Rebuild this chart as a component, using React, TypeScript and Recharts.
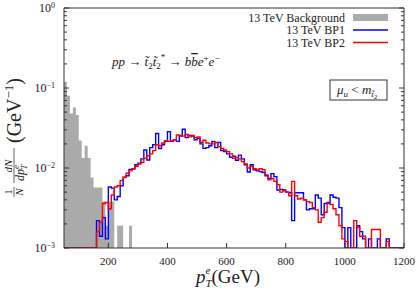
import { ComposedChart, Area, Line, XAxis, YAxis, Legend, Customized } from 'recharts'

// bin left edges, 10 GeV bins from 50 to 1200
const BIN_START = 50
const BIN_WIDTH = 10
const X_MAX = 1200

// 13 TeV background, bins from 50 GeV
const bgStart = 50
const background = [
  0.12, 0.08, 0.048, 0.057, 0.046, 0.022, 0.0133, 0.019, 0.0133, 0.0076,
  0.0057, 0.0057, 0.0057, 0.0038, 0.0019, 0.0038, 0.0038, 0, 0.0019, 0.0019,
  0, 0, 0.0019,
]

// BP1 (blue), bins from 160 GeV
const bp1Start = 160
const bp1 = [
  0.0022, 0.0014, 0.0024, 0.0013, 0.0058, 0.0056, 0.004, 0.0044, 0.006, 0.0077,
  0.008, 0.0096, 0.0098, 0.011, 0.0115, 0.013, 0.0168, 0.0126, 0.018, 0.0195,
  0.027, 0.0175, 0.0195, 0.0215, 0.0285, 0.0215, 0.0225, 0.0215, 0.025, 0.0305,
  0.024, 0.0255, 0.025, 0.0225, 0.0235, 0.02, 0.0176, 0.018, 0.019, 0.0214,
  0.018, 0.0208, 0.0165, 0.016, 0.015, 0.0136, 0.014, 0.0125, 0.0145, 0.013,
  0.011, 0.0089, 0.011, 0.0095, 0.0092, 0.009, 0.0088, 0.008, 0.0074, 0.0085,
  0.0078, 0.0053, 0.0054, 0.0053, 0.005, 0.0049, 0.0022, 0.0049, 0.0049, 0.0049,
  0.004, 0.003, 0.0031, 0.0031, 0.0046, 0.0042, 0.0026, 0.0036, 0.0037, 0.0046,
  0.0043, 0.0042, 0.0032, 0.0018, 0, 0.0018, 0, 0, 0.0019, 0.0016,
  0.0013, 0, 0.0013, 0, 0, 0.0013, 0, 0, 0.0013, 0,
  0, 0, 0, 0,
]

// BP2 (red), bins from 160 GeV
const bp2Start = 160
const bp2 = [
  0.0016, 0.0021, 0.0036, 0.0037, 0.0031, 0.0046, 0.0058, 0.006, 0.007, 0.0076,
  0.0086, 0.0092, 0.0098, 0.0105, 0.0112, 0.0117, 0.0133, 0.0142, 0.015, 0.0165,
  0.0195, 0.019, 0.0205, 0.022, 0.0215, 0.0218, 0.0225, 0.0258, 0.0255, 0.025,
  0.0262, 0.0245, 0.0255, 0.024, 0.0245, 0.021, 0.0222, 0.0205, 0.02, 0.02,
  0.0208, 0.0185, 0.0175, 0.0168, 0.016, 0.015, 0.0132, 0.0135, 0.013, 0.012,
  0.0112, 0.01, 0.0105, 0.0098, 0.0095, 0.0098, 0.0095, 0.0082, 0.0071, 0.0074,
  0.0068, 0.0062, 0.005, 0.0052, 0.005, 0.0045, 0.0068, 0.0045, 0.0041, 0.0042,
  0.004, 0.0038, 0.0037, 0.0032, 0.003, 0.0021, 0.0024, 0.0028, 0.0036, 0.0035,
  0.0031, 0.0026, 0.0019, 0.0013, 0.0012, 0, 0, 0.0022, 0.0018, 0.0014,
  0.0014, 0, 0, 0.0017, 0.0017, 0.0017, 0, 0, 0.0012, 0,
  0, 0, 0, 0,
]

const xTicks = [200, 400, 600, 800, 1000, 1200]
const yMajor = [0.001, 0.01, 0.1, 1]
const yTicks = [
  0.001, 0.002, 0.003, 0.004, 0.005, 0.006, 0.007, 0.008, 0.009,
  0.01, 0.02, 0.03, 0.04, 0.05, 0.06, 0.07, 0.08, 0.09,
  0.1, 0.2, 0.3, 0.4, 0.5, 0.6, 0.7, 0.8, 0.9, 1,
]

const Y_MIN = 0.001
const AXIS = '#333'
const FONT = '"Liberation Serif", "Times New Roman", serif'

const pick = (arr: number[], start: number, x: number) => {
  const i = Math.round((x - start) / BIN_WIDTH)
  const v = i >= 0 && i < arr.length ? arr[i] : 0
  return v > 0 ? v : Y_MIN
}

const nBins = Math.round((X_MAX - BIN_START) / BIN_WIDTH)
const data = Array.from({ length: nBins + 1 }, (_, i) => {
  const edge = BIN_START + i * BIN_WIDTH
  const x = i === nBins ? edge - BIN_WIDTH : edge
  return {
    x: edge,
    bg: pick(background, bgStart, x),
    bp1: pick(bp1, bp1Start, x),
    bp2: pick(bp2, bp2Start, x),
  }
})

const isMajor = (v: number) => yMajor.some(m => Math.abs(m - v) < 1e-9)

function LeftTick({ x, y, payload }: any) {
  const v = payload.value
  const major = isMajor(v)
  const exp = Math.round(Math.log10(v))
  return (
    <g>
      <line x1={x} y1={y} x2={x + (major ? 5 : 3)} y2={y} stroke={AXIS} />
      {major && (
        <text x={x - 9} y={y + 4} textAnchor="end" fontFamily={FONT} fontSize={12} fill="#222">
          10<tspan dy={-4} fontSize={8}>{exp === 0 ? '0' : `\u2212${-exp}`}</tspan>
        </text>
      )}
    </g>
  )
}

function RightTick({ x, y, payload }: any) {
  const major = isMajor(payload.value)
  return <line x1={x} y1={y} x2={x - (major ? 5 : 3)} y2={y} stroke={AXIS} />
}

function BottomTick({ x, y, payload }: any) {
  return (
    <g>
      <line x1={x} y1={y} x2={x} y2={y - 5} stroke={AXIS} />
      <text x={x} y={y + 17} textAnchor="middle" fontFamily={FONT} fontSize={11} fill="#222">
        {payload.value}
      </text>
    </g>
  )
}

function TopTick({ x, y }: any) {
  return <line x1={x} y1={y} x2={x} y2={y + 5} stroke={AXIS} />
}

const legendOrder = ['bg', 'bp1', 'bp2']

function renderLegend({ payload }: any) {
  const items = [...(payload || [])].sort(
    (a: any, b: any) => legendOrder.indexOf(a.dataKey) - legendOrder.indexOf(b.dataKey),
  )
  return (
    <svg width={418} height={56} style={{ display: 'block' }}>
      {items.map((it: any, i: number) => {
        const cy = 17.5 + i * 12.5
        return (
          <g key={it.dataKey}>
            <text x={345} y={cy + 4} textAnchor="end" fontFamily={FONT} fontSize={12} fill="#222">
              {it.value}
            </text>
            {it.dataKey === 'bg' ? (
              <rect x={353} y={cy - 3.5} width={35} height={7} fill="#aaaaaa" />
            ) : (
              <line x1={353} x2={388} y1={cy} y2={cy} stroke={it.color} strokeWidth={1.4} />
            )}
          </g>
        )
      })}
    </svg>
  )
}

function Annotations() {
  return (
    <g fontFamily={FONT} fill="#222">
      <text x={112} y={66} fontSize={13}>
        <tspan fontStyle="italic">pp</tspan>
        <tspan>{' \u2192 '}</tspan>
        <tspan fontStyle="italic">{'t\u0303'}</tspan>
        <tspan fontSize={9} dy={3}>2</tspan>
        <tspan fontStyle="italic" dy={-3}>{'t\u0303'}</tspan>
        <tspan fontSize={9} dy={3}>2</tspan>
        <tspan fontSize={9} dy={-9}>*</tspan>
        <tspan dy={6}>{' \u2192 '}</tspan>
        <tspan fontStyle="italic">b</tspan>
        <tspan fontStyle="italic" style={{ textDecoration: 'overline' }}>b</tspan>
        <tspan fontStyle="italic">e</tspan>
        <tspan fontSize={9} dy={-5}>+</tspan>
        <tspan fontStyle="italic" dy={5}>e</tspan>
        <tspan fontSize={9} dy={-5}>{'\u2212'}</tspan>
      </text>

      <rect x={330} y={80} width={57} height={20} fill="#fff" stroke={AXIS} />
      <text x={337} y={94} fontSize={13}>
        <tspan fontStyle="italic">{'\u03bc'}</tspan>
        <tspan fontStyle="italic" fontSize={9} dy={3}>u</tspan>
        <tspan dy={-3}>{' < '}</tspan>
        <tspan fontStyle="italic">m</tspan>
        <tspan fontStyle="italic" fontSize={9} dy={3}>{'t\u0303'}</tspan>
        <tspan fontSize={7} dy={2}>2</tspan>
      </text>

      <text x={196} y={283} fontSize={19}>
        <tspan fontStyle="italic">p</tspan>
        <tspan fontStyle="italic" fontSize={11} dy={-9}>e</tspan>
        <tspan fontStyle="italic" fontSize={11} dx={-5} dy={13}>T</tspan>
        <tspan dy={-4}>(GeV)</tspan>
      </text>

      <g transform="translate(3, 198) rotate(-90)">
        <text x={6} y={9} fontSize={10} textAnchor="middle">1</text>
        <line x1={1} x2={11} y1={11} y2={11} stroke="#222" strokeWidth={0.7} />
        <text x={6} y={20} fontSize={11} fontStyle="italic" textAnchor="middle">N</text>
        <text x={32} y={9} fontSize={11} fontStyle="italic" textAnchor="middle">dN</text>
        <line x1={15} x2={50} y1={11} y2={11} stroke="#222" strokeWidth={0.7} />
        <text x={17} y={21} fontSize={12} fontStyle="italic">
          dp<tspan fontSize={9} dy={-5}>e</tspan>
          <tspan fontSize={9} dx={-4.5} dy={8}>T</tspan>
        </text>
        <text x={55} y={18} fontSize={20}>
          (GeV<tspan fontSize={13} dy={-8}>{'\u22121'}</tspan>
          <tspan dy={8}>)</tspan>
        </text>
      </g>
    </g>
  )
}

export default function App() {
  return (
    <div style={{ width: 418, height: 291, background: '#fff' }}>
      <style>{'body{margin:0}'}</style>
      <ComposedChart width={418} height={291} data={data} margin={{ top: 7, right: 13, bottom: 0, left: 0 }}>
        <XAxis
          dataKey="x"
          type="number"
          domain={[BIN_START, X_MAX]}
          allowDataOverflow
          ticks={xTicks}
          interval={0}
          height={43}
          tickSize={0}
          tickMargin={0}
          tickLine={false}
          stroke={AXIS}
          tick={<BottomTick />}
        />
        <XAxis
          xAxisId="top"
          orientation="top"
          type="number"
          domain={[BIN_START, X_MAX]}
          allowDataOverflow
          ticks={xTicks}
          interval={0}
          height={1}
          tickSize={0}
          tickMargin={0}
          tickLine={false}
          stroke={AXIS}
          tick={<TopTick />}
        />
        <YAxis
          type="number"
          scale="log"
          domain={[Y_MIN, 1]}
          allowDataOverflow
          ticks={yTicks}
          interval={0}
          width={64}
          tickSize={0}
          tickMargin={0}
          tickLine={false}
          stroke={AXIS}
          tick={<LeftTick />}
        />
        <YAxis
          yAxisId="right"
          orientation="right"
          type="number"
          scale="log"
          domain={[Y_MIN, 1]}
          allowDataOverflow
          ticks={yTicks}
          interval={0}
          width={1}
          tickSize={0}
          tickMargin={0}
          tickLine={false}
          stroke={AXIS}
          tick={<RightTick />}
        />
        <Area
          dataKey="bg"
          name="13 TeV Background"
          type="stepAfter"
          stroke="none"
          fill="#aaaaaa"
          fillOpacity={1}
          baseValue={Y_MIN}
          dot={false}
          activeDot={false}
          isAnimationActive={false}
        />
        <Line
          dataKey="bp1"
          name="13 TeV BP1"
          type="stepAfter"
          stroke="#0000ff"
          strokeWidth={1.4}
          dot={false}
          activeDot={false}
          isAnimationActive={false}
        />
        <Line
          dataKey="bp2"
          name="13 TeV BP2"
          type="stepAfter"
          stroke="#ff0000"
          strokeWidth={1.4}
          dot={false}
          activeDot={false}
          isAnimationActive={false}
        />
        <Legend
          layout="vertical"
          align="center"
          verticalAlign="middle"
          content={renderLegend}
          wrapperStyle={{ left: 0, top: 0, width: 418, height: 56 }}
        />
        <Customized component={Annotations} />
      </ComposedChart>
    </div>
  )
}
